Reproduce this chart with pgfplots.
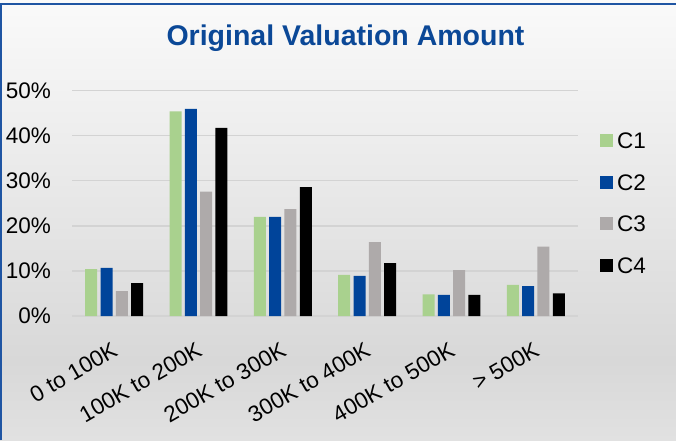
\documentclass[border=0pt]{standalone}
\usepackage{pgfplots}
\pgfplotsset{compat=1.18}
\usepackage{fontspec}
\setmainfont{Liberation Sans}
\definecolor{cA}{HTML}{A9D18E}
\definecolor{cB}{HTML}{00449A}
\definecolor{cC}{HTML}{AEAAAA}
\definecolor{cD}{HTML}{000000}
\definecolor{titleblue}{HTML}{0B4897}
\definecolor{framec}{HTML}{1F55A3}
\definecolor{gridc}{HTML}{D3D3D3}
\definecolor{bgA}{HTML}{E1E1E1}
\definecolor{bgB}{HTML}{D8D8D8}
\definecolor{bgC}{HTML}{FAFAFA}
\pgfdeclareverticalshading{bgshade}{100bp}{color(0bp)=(bgA); color(25bp)=(bgA); color(34bp)=(bgB); color(75bp)=(bgC); color(100bp)=(bgC)}
\pgfplotsset{sqlegend/.style={legend image code/.code={\fill[##1] (0pt,1.5pt) rectangle (13pt,14.5pt);}}}
\begin{document}
\begin{tikzpicture}
\useasboundingbox (0pt,0pt) rectangle (676pt,440pt);
\shade[shading=bgshade] (0pt,0pt) rectangle (676pt,440pt);
\draw[framec, line width=2pt] (1pt,0pt) -- (1pt,436pt) -- (676pt,436pt);
\begin{axis}[
  at={(72pt,124pt)}, anchor=south west,
  scale only axis, width=506pt, height=225.5pt,
  xmin=-0.5, xmax=5.5, ymin=0, ymax=50,
  ybar=3.3pt, bar width=12pt,
  axis line style={draw=none},
  major tick length=0pt,
  ymajorgrids, grid style={gridc, line width=1.5pt},
  ytick={0,10,20,30,40,50},
  yticklabels={0\%,10\%,20\%,30\%,40\%,50\%},
  xtick={0,1,2,3,4,5},
  xticklabels={0 to 100K,100K to 200K,200K to 300K,300K to 400K,400K to 500K,{> 500K}},
  tick label style={font=\fontsize{22.5}{22.5}\selectfont, inner sep=0pt},
  yticklabel style={anchor=east, xshift=-21pt},
  xticklabel style={anchor=north east, xshift=-3pt, yshift=-25pt, rotate=30},
  every axis title shift=0pt,
  title={Original Valuation Amount},
  title style={at={(0.5405,1.2018)}, anchor=base, font=\bfseries\fontsize{28.5}{28.5}\selectfont, text=titleblue, inner sep=0pt},
  legend style={draw=none, fill=none, at={(1.0435,0.813)}, anchor=north west, inner sep=0pt,
    font=\fontsize{22.5}{22.5}\selectfont, row sep=25.5pt,
    nodes={inner sep=0pt, text height=16pt, text depth=0pt, anchor=base west},
    /tikz/every odd column/.append style={column sep=4pt}},
  legend cell align=left,
]
\addplot[fill=cA, draw=none, sqlegend] coordinates {(0,10.4) (1,45.4) (2,22.0) (3,9.1) (4,4.8) (5,6.9)};
\addplot[fill=cB, draw=none, sqlegend] coordinates {(0,10.65) (1,45.9) (2,22.0) (3,8.9) (4,4.7) (5,6.6)};
\addplot[fill=cC, draw=none, sqlegend] coordinates {(0,5.5) (1,27.6) (2,23.7) (3,16.4) (4,10.2) (5,15.4)};
\addplot[fill=cD, draw=none, sqlegend] coordinates {(0,7.3) (1,41.7) (2,28.6) (3,11.7) (4,4.7) (5,5.0)};
\legend{C1,C2,C3,C4}
\end{axis}
\end{tikzpicture}
\end{document}
